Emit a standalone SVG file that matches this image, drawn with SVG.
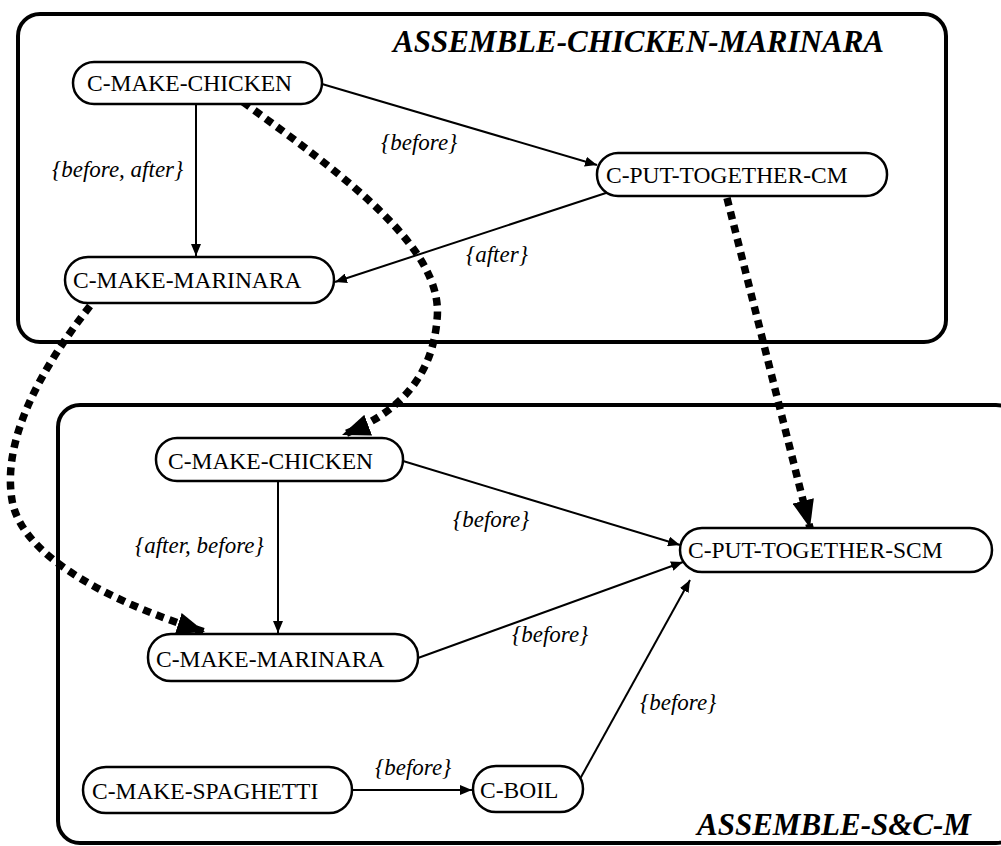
<svg xmlns="http://www.w3.org/2000/svg" width="1001" height="846" viewBox="0 0 1001 846">
<style>
.container{fill:none;stroke:#000;stroke-width:4}
.title{font-family:'Liberation Serif','Times New Roman',Times,'DejaVu Serif',serif;font-size:31px;font-weight:bold;font-style:italic;fill:#000}
.node rect{fill:#fff;stroke:#000;stroke-width:2.5}
.node text{font-family:'Liberation Serif','Times New Roman',Times,'DejaVu Serif',serif;font-size:23.5px;fill:#000}
.edge{fill:none;stroke:#000;stroke-width:2}
.map{fill:none;stroke:#000;stroke-width:7.5;stroke-dasharray:8 6}
.label{font-family:'Liberation Serif','Times New Roman',Times,'DejaVu Serif',serif;font-size:23px;font-style:italic;fill:#000}
</style>
<defs>
<marker id="arrow" viewBox="0 0 12 10" refX="12" refY="5" markerWidth="12" markerHeight="10" markerUnits="userSpaceOnUse" orient="auto">
<path d="M0,0 L12,5 L0,10 z" fill="#000"/>
</marker>
<marker id="bigarrow" viewBox="0 0 28 22" refX="28" refY="11" markerWidth="28" markerHeight="22" markerUnits="userSpaceOnUse" orient="auto">
<path d="M0,0 L28,11 L0,22 z" fill="#000"/>
</marker>
</defs>
<rect width="1001" height="846" fill="#fff"/>
<g id="container-top">
<rect class="container" x="18" y="14" width="928" height="328" rx="22"/>
<text class="title" x="393" y="52">ASSEMBLE-CHICKEN-MARINARA</text>
</g>
<g id="container-bottom">
<rect class="container" x="58" y="405" width="960" height="438" rx="22"/>
<text class="title" x="697" y="835">ASSEMBLE-S&amp;C-M</text>
</g>
<g id="connectors">
<line class="edge" x1="196" y1="104" x2="196" y2="256" marker-end="url(#arrow)"/>
<line class="edge" x1="322" y1="84" x2="597" y2="165" marker-end="url(#arrow)"/>
<line class="edge" x1="612" y1="191" x2="335" y2="282" marker-end="url(#arrow)"/>
<line class="edge" x1="278" y1="481" x2="278" y2="633" marker-end="url(#arrow)"/>
<line class="edge" x1="403" y1="461" x2="680" y2="545" marker-end="url(#arrow)"/>
<line class="edge" x1="418" y1="658" x2="683" y2="562" marker-end="url(#arrow)"/>
<line class="edge" x1="575" y1="788" x2="690" y2="580" marker-end="url(#arrow)"/>
<line class="edge" x1="352" y1="790" x2="472" y2="790" marker-end="url(#arrow)"/>
<path class="map" d="M 243,102 C 350,180 445,250 437,320 C 432,380 395,415 342,435" marker-end="url(#bigarrow)"/>
<path class="map" d="M 90,306 C 40,370 2,440 12,500 C 22,560 120,605 205,632" marker-end="url(#bigarrow)"/>
<path class="map" d="M 727,198 L 810,528" marker-end="url(#bigarrow)"/>
<text class="label" x="52" y="177">{before, after}</text>
<text class="label" x="381" y="150">{before}</text>
<text class="label" x="466" y="262">{after}</text>
<text class="label" x="135" y="553">{after, before}</text>
<text class="label" x="453" y="527">{before}</text>
<text class="label" x="512" y="642">{before}</text>
<text class="label" x="640" y="710">{before}</text>
<text class="label" x="375" y="775">{before}</text>
</g>
<g id="n-cm-chicken" class="node">
<rect x="73" y="62" width="249" height="42" rx="21"/>
<text x="87" y="91">C-MAKE-CHICKEN</text>
</g>
<g id="n-cm-puttogether" class="node">
<rect x="597" y="153" width="290" height="43" rx="21"/>
<text x="606" y="183">C-PUT-TOGETHER-CM</text>
</g>
<g id="n-cm-marinara" class="node">
<rect x="65" y="257" width="269" height="46" rx="23"/>
<text x="73" y="288">C-MAKE-MARINARA</text>
</g>
<g id="n-scm-chicken" class="node">
<rect x="156" y="438" width="247" height="43" rx="21"/>
<text x="168" y="469">C-MAKE-CHICKEN</text>
</g>
<g id="n-scm-marinara" class="node">
<rect x="148" y="634" width="270" height="47" rx="23"/>
<text x="156" y="667">C-MAKE-MARINARA</text>
</g>
<g id="n-scm-puttogether" class="node">
<rect x="680" y="528" width="312" height="44" rx="22"/>
<text x="688" y="558">C-PUT-TOGETHER-SCM</text>
</g>
<g id="n-scm-spaghetti" class="node">
<rect x="83" y="767" width="269" height="46" rx="23"/>
<text x="92" y="799">C-MAKE-SPAGHETTI</text>
</g>
<g id="n-scm-boil" class="node">
<rect x="473" y="766" width="110" height="46" rx="23"/>
<text x="480" y="798">C-BOIL</text>
</g>
</svg>
